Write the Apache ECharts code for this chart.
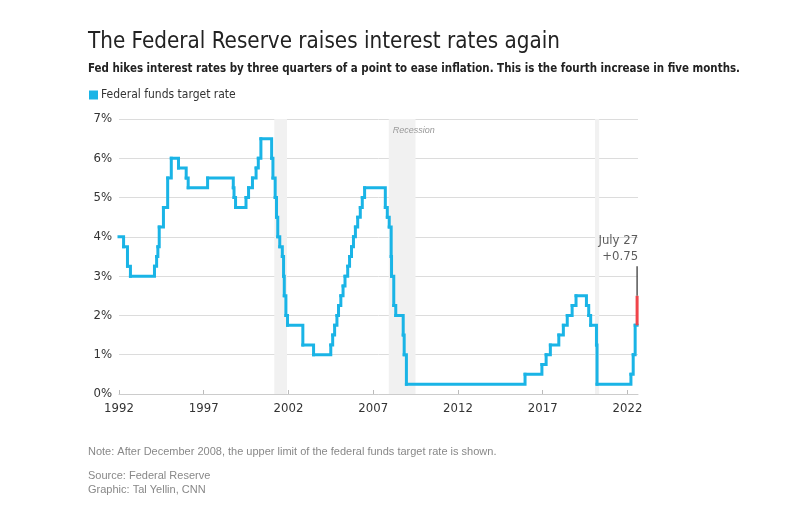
<!DOCTYPE html>
<html><head><meta charset="utf-8">
<script src="https://cdn.jsdelivr.net/npm/echarts@6/dist/echarts.min.js"></script>
<style>html,body{margin:0;padding:0;background:#fff}#c{width:800px;height:510px}</style>
</head><body><div id="c"></div>
<script>
// Change dates and the new target rate (upper limit after Dec 2008)
const changeDates = ['1992-01-01','1992-04-09','1992-07-02','1992-09-04','1994-02-04','1994-03-22','1994-04-18','1994-05-17','1994-08-16','1994-11-15','1995-02-01','1995-07-06','1995-12-19','1996-01-31','1997-03-25','1998-09-29','1998-10-15','1998-11-17','1999-06-30','1999-08-24','1999-11-16','2000-02-02','2000-03-21','2000-05-16','2001-01-03','2001-01-31','2001-03-20','2001-04-18','2001-05-15','2001-06-27','2001-08-21','2001-09-17','2001-10-02','2001-11-06','2001-12-11','2002-11-06','2003-06-25','2004-06-30','2004-08-10','2004-09-21','2004-11-10','2004-12-14','2005-02-02','2005-03-22','2005-05-03','2005-06-30','2005-08-09','2005-09-20','2005-11-01','2005-12-13','2006-01-31','2006-03-28','2006-05-10','2006-06-29','2007-09-18','2007-10-31','2007-12-11','2008-01-22','2008-01-30','2008-03-18','2008-04-30','2008-10-08','2008-10-29','2008-12-16','2015-12-16','2016-12-14','2017-03-15','2017-06-14','2017-12-13','2018-03-21','2018-06-13','2018-09-26','2018-12-19','2019-07-31','2019-09-18','2019-10-30','2020-03-03','2020-03-15','2022-03-16','2022-05-04','2022-06-15','2022-07-27'];
const rates = [4.00,3.75,3.25,3.00,3.25,3.50,3.75,4.25,4.75,5.50,6.00,5.75,5.50,5.25,5.50,5.25,5.00,4.75,5.00,5.25,5.50,5.75,6.00,6.50,6.00,5.50,5.00,4.50,4.00,3.75,3.50,3.00,2.50,2.00,1.75,1.25,1.00,1.25,1.50,1.75,2.00,2.25,2.50,2.75,3.00,3.25,3.50,3.75,4.00,4.25,4.50,4.75,5.00,5.25,4.75,4.50,4.25,3.50,3.00,2.25,2.00,1.50,1.00,0.25,0.50,0.75,1.00,1.25,1.50,1.75,2.00,2.25,2.50,2.25,2.00,1.75,1.25,0.25,0.50,1.00,1.75,1.75];
// Latest hike (July 27, 2022)
const latestDate = '2022-07-27';
const latestFrom = 1.75;
const latestTo = 2.50;
const annotationTop = 3.25;
const annotationText = 'July 27\n+0.75';
// Recessions
const recessions = [['2001-03-01','2001-11-30'],['2007-12-01','2009-06-30'],['2020-02-01','2020-04-30']];
const xTickYears = [1992,1997,2002,2007,2012,2017,2022];
const yTicks = [0,1,2,3,4,5,6,7];
const xMin = 1992, xMax = 2022.62;

const titleText = 'The Federal Reserve raises interest rates again';
const subtitleText = 'Fed hikes interest rates by three quarters of a point to ease inflation. This is the fourth increase in five months.';

function dec(s){
  const d = new Date(s + 'T00:00:00Z');
  const y = d.getUTCFullYear();
  const start = Date.UTC(y,0,1), end = Date.UTC(y+1,0,1);
  return y + (d.getTime()-start)/(end-start);
}
// step segments: [x_i, y_i, x_{i+1}, y_{i+1}]
const segData = [];
for (let i = 0; i < changeDates.length - 1; i++) {
  segData.push([dec(changeDates[i]), rates[i], dec(changeDates[i+1]), rates[i+1]]);
}
const redData = [[dec(latestDate), latestFrom],[dec(latestDate), latestTo]];
const grayData = [[dec(latestDate), latestTo],[dec(latestDate), annotationTop]];

const FONT = "'DejaVu Sans Condensed','DejaVu Sans',Roboto,sans-serif";
const mctx = document.createElement('canvas').getContext('2d');
function fitScale(text, font, target){ mctx.font = font; return target / mctx.measureText(text).width; }
const titleFont = "23px 'DejaVu Sans Condensed','DejaVu Sans',sans-serif";
const subFont = "bold 13px 'DejaVu Sans Condensed','DejaVu Sans',sans-serif";
const titleScale = fitScale(titleText, titleFont, 472);
const subScale = fitScale(subtitleText, subFont, 652);
const BLUE = '#1ab4e6';

const chart = echarts.init(document.getElementById('c'), null, {renderer:'canvas'});
chart.setOption({
  animation:false,
  backgroundColor:'#fff',
  legend:{show:true, left:84, top:84, icon:'rect', itemWidth:9, itemHeight:9, itemGap:6,
    data:[{name:'Federal funds target rate', itemStyle:{color:BLUE}}],
    textStyle:{fontFamily:FONT, fontSize:12, color:'#333', padding:[0,0,0,-2]}},
  grid:{left:119, right:162, top:119, bottom:116},
  xAxis:{type:'value', min:xMin, max:xMax,
    axisLine:{show:true, lineStyle:{color:'#ccc'}},
    axisTick:{show:true, inside:true, length:4, lineStyle:{color:'#bbb'}, customValues:xTickYears},
    axisLabel:{customValues:xTickYears, fontFamily:FONT, fontSize:13, color:'#333', margin:8, formatter:v=>String(Math.round(v))},
    splitLine:{show:false}},
  yAxis:{type:'value', min:0, max:7, interval:1,
    axisLine:{show:false}, axisTick:{show:false},
    axisLabel:{fontFamily:FONT, fontSize:13, color:'#333', margin:7, formatter:v=>v+'%'},
    splitLine:{lineStyle:{color:'#dcdcdc', width:1}}},
  series:[
    {name:'Federal funds target rate', type:'custom', data:segData, itemStyle:{color:BLUE}, z:3,
     encode:{x:[0,2], y:[1,3]},
     renderItem:function(params, api){
       const p0 = api.coord([api.value(0), api.value(1)]);
       const p1 = api.coord([api.value(2), api.value(1)]);
       const p2 = api.coord([api.value(2), api.value(3)]);
       return {type:'polyline', shape:{points:[p0,p1,p2]},
         style:{stroke:BLUE, lineWidth:3, fill:null, lineCap:'square', lineJoin:'miter'}};
     },
     markArea:{silent:true, itemStyle:{color:'#f1f1f1'},
       label:{show:false},
       data:recessions.map((r,i)=>[{xAxis:dec(r[0]), label:{show:i===1, position:[4,7], formatter:'Recession', fontFamily:"'Liberation Sans',Arial,sans-serif", fontStyle:'italic', fontSize:9, color:'#999'}},{xAxis:dec(r[1])}])}},
    {name:'latest', type:'line', data:redData, showSymbol:false, lineStyle:{color:'#f0444a', width:3}, z:4},
    {name:'annot', type:'line', data:grayData, symbol:'none', lineStyle:{color:'#555', width:1.5}, z:4},
    {name:'annotLabel', type:'scatter', data:[{value:grayData[1]}], symbolSize:0,
     label:{show:true, position:'top', align:'right', offset:[1,1], distance:3, formatter:annotationText,
       fontFamily:FONT, fontSize:13, lineHeight:16, color:'#333'}, z:5}
  ],
  graphic:[
    {type:'text', x:88, y:42, scaleX:titleScale, style:{text:titleText, font:titleFont, fill:'#222', textVerticalAlign:'middle'}},
    {type:'text', x:88, y:69, scaleX:subScale, style:{text:subtitleText, font:subFont, fill:'#222', textVerticalAlign:'middle'}},
    {type:'text', left:88, top:446, style:{text:'Note: After December 2008, the upper limit of the federal funds target rate is shown.', font:'11px "Liberation Sans",Arial,sans-serif', fill:'#888'}},
    {type:'text', left:88, top:470, style:{text:'Source: Federal Reserve', font:'11px "Liberation Sans",Arial,sans-serif', fill:'#888'}},
    {type:'text', left:88, top:484, style:{text:'Graphic: Tal Yellin, CNN', font:'11px "Liberation Sans",Arial,sans-serif', fill:'#888'}}
  ]
});
</script></body></html>
